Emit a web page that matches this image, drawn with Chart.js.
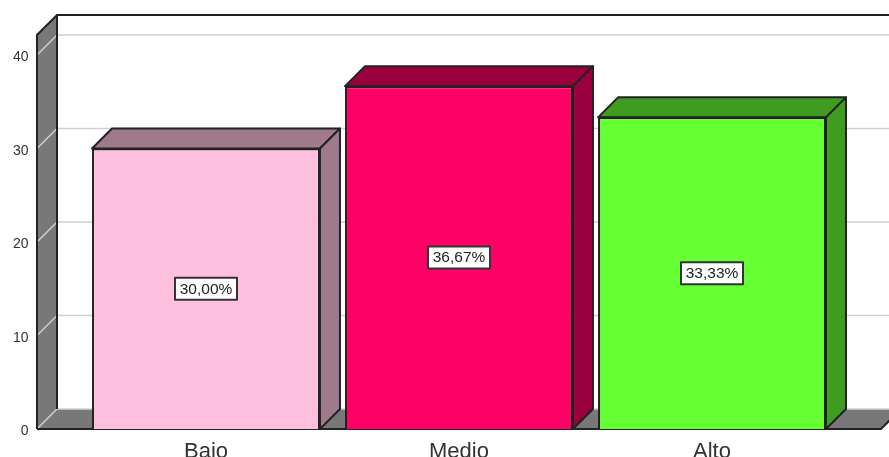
<!DOCTYPE html>
<html>
<head>
<meta charset="utf-8">
<title>Bajo, Medio, Alto</title>
<script src="https://cdn.jsdelivr.net/npm/chart.js@4"></script>
<style>
  html,body{margin:0;padding:0;background:#fff;overflow:hidden}
  #wrap{position:relative;width:889px;height:457px}
  canvas{display:block}
</style>
</head>
<body>
<div id="wrap"><canvas id="barChart"></canvas></div>
<script>
const categories = ['Bajo','Medio','Alto'];
const percentages = [30, 36.67, 33.33];
const yTicks = [0, 10, 20, 30, 40];

const faceColors = ['#ffc0e0','#ff0066','#66ff33'];
const shadeColors = ['#9f7a8c','#99003d','#3f9c20'];

const DEPTH = 20;
const INK = '#222';

function poly(ctx, pts, fill, stroke, lw){
  ctx.beginPath();
  pts.forEach((p,i)=> i ? ctx.lineTo(p[0],p[1]) : ctx.moveTo(p[0],p[1]));
  ctx.closePath();
  if(fill){ ctx.fillStyle=fill; ctx.fill(); }
  if(stroke){ ctx.strokeStyle=stroke; ctx.lineWidth=lw||2; ctx.lineJoin='round'; ctx.stroke(); }
}

// walls, floor and grid of the box behind the bars
const boxPlugin = {
  id:'box3d',
  beforeDatasetsDraw(chart){
    const {ctx, scales:{y}, width} = chart;
    const left = 37, back = left + DEPTH, bottom = y.getPixelForValue(0);
    const top = y.getPixelForValue(40) - DEPTH;
    const floorEnd = 881;
    ctx.save();
    // floor
    poly(ctx, [[left,bottom],[back,bottom-DEPTH],[floorEnd+DEPTH,bottom-DEPTH],[floorEnd,bottom]], '#787878');
    // left wall
    poly(ctx, [[left,bottom],[left,top],[back,top-DEPTH],[back,bottom-DEPTH]], '#787878');
    // grid
    ctx.strokeStyle='#cfcfcf';
    ctx.lineWidth=1.5;
    yTicks.forEach(t=>{
      const py=y.getPixelForValue(t);
      ctx.beginPath();
      ctx.moveTo(left,py);
      ctx.lineTo(back,py-DEPTH);
      ctx.lineTo(width,py-DEPTH);
      ctx.stroke();
    });
    // outlines
    ctx.strokeStyle=INK;
    ctx.lineWidth=2;
    ctx.beginPath();
    ctx.moveTo(left,bottom); ctx.lineTo(left,top); ctx.lineTo(back,top-DEPTH); ctx.lineTo(width,top-DEPTH);
    ctx.moveTo(back,top-DEPTH); ctx.lineTo(back,bottom-DEPTH);
    ctx.moveTo(left,bottom); ctx.lineTo(floorEnd,bottom); ctx.lineTo(floorEnd+DEPTH,bottom-DEPTH);
    ctx.stroke();
    ctx.restore();
  },
  // top and side faces of each bar, then the value boxes
  afterDatasetsDraw(chart){
    const {ctx} = chart;
    const bars = chart.getDatasetMeta(0).data;
    ctx.save();
    bars.forEach((bar,i)=>{
      const half=bar.width/2, l=bar.x-half, r=bar.x+half, t=bar.y, b=bar.base;
      poly(ctx, [[l,t],[l+DEPTH,t-DEPTH],[r+DEPTH,t-DEPTH],[r,t]], shadeColors[i], INK);
      poly(ctx, [[r,t],[r+DEPTH,t-DEPTH],[r+DEPTH,b-DEPTH],[r,b]], shadeColors[i], INK);
    });
    ctx.font='15.5px "Liberation Sans", Arial, sans-serif';
    ctx.textAlign='center';
    ctx.textBaseline='middle';
    bars.forEach((bar,i)=>{
      const text=percentages[i].toFixed(2).replace('.',',')+'%';
      const cy=(bar.y+bar.base)/2;
      const w=62, h=22;
      ctx.fillStyle='#fff';
      ctx.fillRect(bar.x-w/2,cy-h/2,w,h);
      ctx.strokeStyle='#333';
      ctx.lineWidth=2;
      ctx.strokeRect(bar.x-w/2,cy-h/2,w,h);
      ctx.fillStyle='#222';
      ctx.fillText(text,bar.x,cy+0.5);
    });
    ctx.restore();
  }
};

new Chart(document.getElementById('barChart'), {
  type:'bar',
  data:{
    labels:categories,
    datasets:[{
      data:percentages,
      backgroundColor:faceColors,
      borderColor:INK,
      borderWidth:2,
      barPercentage:0.901,
      categoryPercentage:1
    }]
  },
  options:{
    responsive:true,
    maintainAspectRatio:false,
    animation:false,
    devicePixelRatio:1,
    layout:{padding:{top:55,right:50.5,left:0,bottom:0}},
    plugins:{legend:{display:false},tooltip:{enabled:false}},
    scales:{
      x:{
        grid:{display:false},
        border:{display:false},
        ticks:{color:'#333',padding:2,maxRotation:0,font:{family:'"Liberation Sans", Arial, sans-serif',size:22}},
        afterFit(s){ s.height=28; }
      },
      y:{
        min:0,
        max:40,
        grid:{display:false,drawTicks:false},
        border:{display:false},
        ticks:{stepSize:10,color:'#333',padding:51,labelOffset:2.5,font:{family:'"Liberation Sans", Arial, sans-serif',size:14}},
        // the large tick padding would otherwise be added above and below the plot
        afterFit(s){ s.width=79.5; s.paddingTop=0; s.paddingBottom=0; }
      }
    }
  },
  plugins:[boxPlugin]
});
</script>
</body>
</html>
